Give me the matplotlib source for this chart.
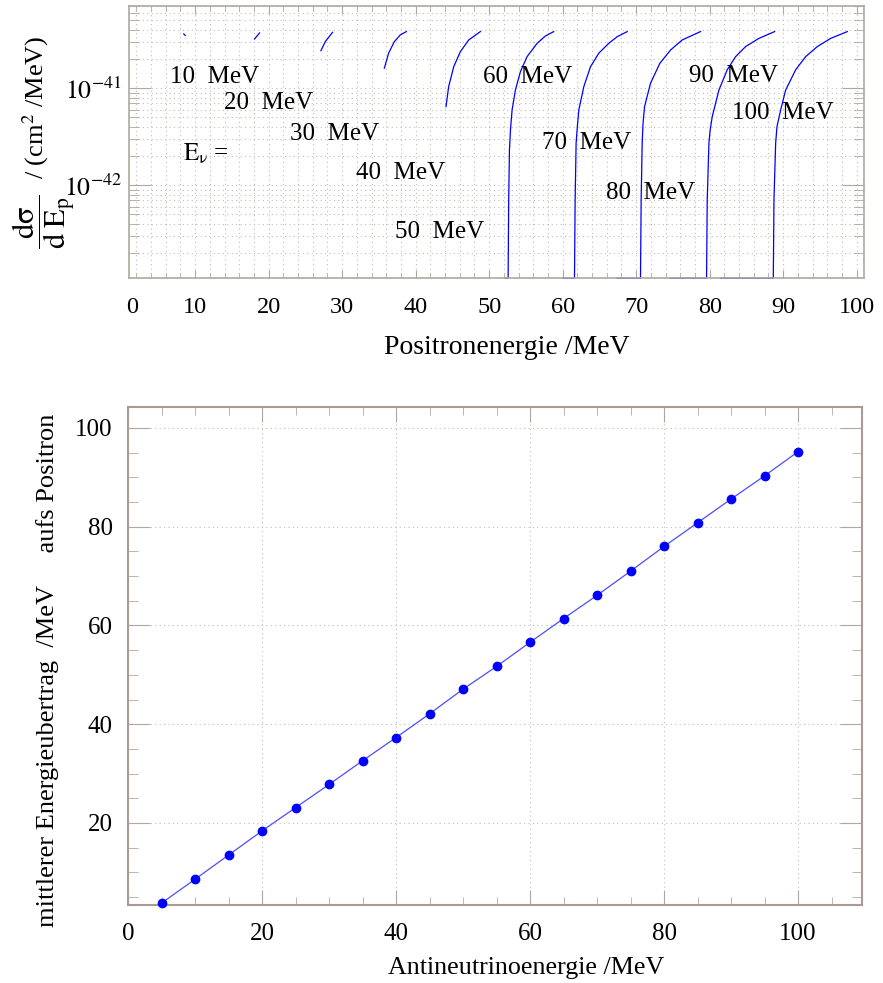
import matplotlib
matplotlib.use('Agg')
import matplotlib.pyplot as plt
from matplotlib.ticker import LogLocator, MultipleLocator, NullFormatter

plt.rcParams['font.family'] = ['Liberation Serif', 'DejaVu Serif']
plt.rcParams['mathtext.fontset'] = 'stix'

# --- top panel: d sigma / d E_p for several antineutrino energies ---
E_nu_labels = [10, 20, 30, 40, 50, 60, 70, 80, 90, 100]

ep_10 = [8.45, 8.65]
sig_10 = [3.63e-41, 3.51e-41]
ep_20 = [18.08, 18.76]
sig_20 = [3.22e-41, 3.72e-41]
ep_30 = [27.11, 27.70, 28.70]
sig_30 = [2.44e-41, 3.02e-41, 3.78e-41]
ep_40 = [35.74, 36.32, 37.10, 37.91, 38.73]
sig_40 = [1.61e-41, 2.30e-41, 3.02e-41, 3.55e-41, 3.84e-41]
ep_50 = [44.13, 44.49, 45.18, 46.08, 47.22, 48.81]
sig_50 = [6.46e-42, 1.04e-41, 1.67e-41, 2.38e-41, 3.15e-41, 3.84e-41]
ep_60 = [52.2, 52.58, 52.66, 52.76, 52.9, 53.12, 53.57, 54.25, 55.16, 56.53, 57.66, 58.79]
sig_60 = [1.1e-43, 1.1e-43, 7.05e-43, 2.31e-42, 3.72e-42, 5.97e-42, 9.59e-42, 1.48e-41,
          2.12e-41, 2.91e-41, 3.46e-41, 3.84e-41]
ep_70 = [60.0, 61.61, 61.70, 61.83, 62.0, 62.20, 62.88, 63.79, 64.92, 66.28, 67.42, 68.78]
sig_70 = [1.1e-43, 1.1e-43, 7.05e-43, 2.71e-42, 4.02e-42, 5.97e-42, 1.04e-41, 1.67e-41,
          2.30e-41, 2.91e-41, 3.40e-41, 3.84e-41]
ep_80 = [67.4, 70.59, 70.68, 70.82, 70.94, 71.14, 71.96, 73.23, 74.68, 76.27, 78.76]
sig_80 = [1.1e-43, 1.1e-43, 7.05e-43, 2.71e-42, 4.36e-42, 6.46e-42, 1.13e-41, 1.81e-41,
          2.48e-41, 3.15e-41, 3.84e-41]
ep_90 = [74.6, 79.58, 79.67, 79.90, 80.07, 80.35, 81.26, 82.39, 83.53, 84.89, 86.70, 88.84]
sig_90 = [1.1e-43, 1.1e-43, 7.05e-43, 2.71e-42, 3.72e-42, 5.09e-42, 9.59e-42, 1.55e-41,
          2.12e-41, 2.69e-41, 3.27e-41, 3.84e-41]
ep_100 = [81.5, 88.66, 88.75, 88.98, 89.16, 89.66, 90.34, 91.70, 93.06, 94.65, 96.47, 98.73]
sig_100 = [1.1e-43, 1.1e-43, 7.05e-43, 2.71e-42, 4.02e-42, 5.97e-42, 9.59e-42, 1.55e-41,
           2.12e-41, 2.69e-41, 3.27e-41, 3.84e-41]

curves = [(ep_10, sig_10), (ep_20, sig_20), (ep_30, sig_30), (ep_40, sig_40),
          (ep_50, sig_50), (ep_60, sig_60), (ep_70, sig_70), (ep_80, sig_80),
          (ep_90, sig_90), (ep_100, sig_100)]

# label anchor (left edge, vertical centre) for each "xx MeV" text
label_x = [6.6, 13.95, 22.94, 31.92, 37.23, 49.17, 57.2, 65.96, 77.17, 83.08]
label_y = [1.31e-41, 7.03e-42, 3.39e-42, 1.35e-42, 3.31e-43, 1.31e-41, 2.71e-42,
           8.4e-43, 1.34e-41, 5.52e-42]

# --- bottom panel: mean energy transfer to positron ---
E_nu = [5, 10, 15, 20, 25, 30, 35, 40, 45, 50, 55, 60, 65, 70, 75, 80, 85, 90, 95, 100]
E_pos_mean = [3.77, 8.6, 13.5, 18.4, 23.1, 27.8, 32.6, 37.3, 42.1, 47.1, 51.7, 56.6,
              61.4, 66.1, 71.0, 76.0, 80.8, 85.6, 90.3, 95.2]

spine_col = '#b0a89f'
grid_col = '#c4bcb4'

fig = plt.figure(figsize=(8.83, 9.83), dpi=100)

ax1 = fig.add_axes([129 / 883, 1 - 278 / 983, 735 / 883, 272 / 983])
for ep, sig in curves:
    ax1.plot(ep, sig, color='#0000ff', lw=0.9, clip_on=False)
ax1.set_yscale('log')
ax1.set_xlim(1, 101)
ax1.set_ylim(1.107e-43, 7.05e-41)
ax1.set_xticks(range(10, 101, 10))
ax1.xaxis.set_minor_locator(MultipleLocator(2))
ax1.set_yticks([1e-42, 1e-41])
ax1.set_yticklabels([r'$10^{-42}$', r'$10^{-41}$'])
ax1.yaxis.set_minor_locator(LogLocator(base=10, subs=range(2, 10)))
ax1.yaxis.set_minor_formatter(NullFormatter())
ax1.grid(which='both', ls=(0, (1, 3)), color=grid_col, lw=0.8)
ax1.tick_params(axis='x', which='major', direction='in', length=6, pad=14,
                top=True, color=spine_col, labelsize=17.5)
ax1.tick_params(axis='x', which='minor', direction='in', length=3.6, top=True, color=spine_col)
ax1.tick_params(axis='y', which='major', direction='in', length=16, pad=5,
                right=True, color=spine_col, labelsize=18.5)
ax1.tick_params(axis='y', which='minor', direction='in', length=7, right=True, color=spine_col)
for s in ax1.spines.values():
    s.set_color(spine_col)
    s.set_linewidth(1.2)
ax1.text(1.38, -0.108, '0', transform=ax1.get_xaxis_transform(), ha='center',
         va='center', fontsize=17.5)

for e, lx, ly in zip(E_nu_labels, label_x, label_y):
    ax1.text(lx, ly, f'{e}  MeV', fontsize=18, ha='left', va='center')
ax1.text(8.4, 2.1e-42, r'$\mathrm{E}_{\mathrm{\nu}}$ =', fontsize=18, ha='left', va='center')

fig.text(507 / 883, 1 - 347 / 983, 'Positronenergie /MeV', ha='center', va='center',
         fontsize=20)
# y label of the top panel: large fraction plus unit text
fig.text(44 / 883, 1 - 222 / 983,
         r'$\dfrac{\mathrm{d\sigma}}{\mathrm{d}\;\mathrm{E}_\mathrm{p}}$',
         ha='center', va='center', rotation=90, fontsize=22)
fig.text(36 / 883, 1 - 107 / 983, r'/ (cm$^{2}$ /MeV)',
         ha='center', va='center', rotation=90, fontsize=19)

ax2 = fig.add_axes([128 / 883, 1 - 905 / 983, 734 / 883, 498 / 983])
ax2.plot(E_nu, E_pos_mean, color='#4d4dff', lw=0.9, zorder=2)
ax2.plot(E_nu, E_pos_mean, ls='none', marker='o', ms=6, color='#0000ff',
         clip_on=False, zorder=3)
ax2.set_xlim(0, 109.55)
ax2.set_ylim(3.39, 104.25)
ax2.set_xticks(range(0, 101, 20))
ax2.set_yticks(range(20, 101, 20))
ax2.xaxis.set_minor_locator(MultipleLocator(5))
ax2.yaxis.set_minor_locator(MultipleLocator(5))
ax2.grid(which='major', ls=(0, (1, 3)), color=grid_col, lw=0.8)
ax2.tick_params(axis='x', which='major', direction='in', length=11, pad=13,
                top=True, color=spine_col, labelsize=18)
ax2.tick_params(axis='x', which='minor', direction='in', length=5.5, top=True, color=spine_col)
ax2.tick_params(axis='y', which='major', direction='in', length=16, pad=11,
                right=True, color=spine_col, labelsize=18)
ax2.tick_params(axis='y', which='minor', direction='in', length=7.5, right=True, color=spine_col)
for s in ax2.spines.values():
    s.set_color('#a89c94')
    s.set_linewidth(1.5)

fig.text(526 / 883, 1 - 968 / 983, 'Antineutrinoenergie /MeV', ha='center', va='center',
         fontsize=18.7)
fig.text(48 / 883, 1 - 670 / 983, 'mittlerer Energieubertrag  /MeV     aufs Positron',
         ha='center', va='center', rotation=90, fontsize=19)

fig.savefig('out.png', dpi=100)
